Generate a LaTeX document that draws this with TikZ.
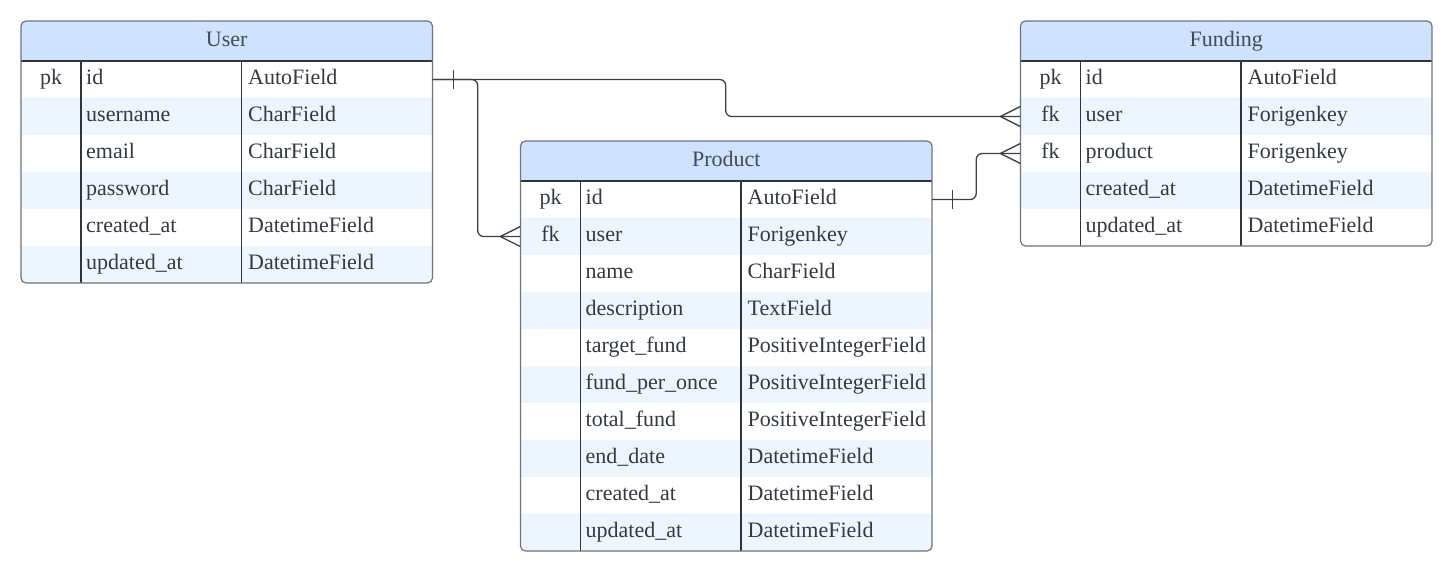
\documentclass[tikz,border=0pt]{standalone}
\usepackage{fontspec}
\setmainfont{Liberation Serif}
\definecolor{hdrfill}{HTML}{CFE2FF}
\definecolor{stripefill}{HTML}{EDF5FF}
\definecolor{bordercol}{HTML}{6E737B}
\definecolor{colline}{HTML}{2F353D}
\definecolor{linecol}{HTML}{3A4049}
\definecolor{txtcol}{HTML}{333A44}
\tikzset{
  celltext/.style={font=\fontsize{22}{26}\selectfont, text=txtcol, inner sep=0pt},
  keytext/.style={celltext, anchor=base},
  nametext/.style={celltext, anchor=base west},
  hdrtext/.style={celltext, anchor=base, text=txtcol!92!white},
  rowbox/.style={minimum width=411.5pt, minimum height=37pt, inner sep=0pt, draw=none},
  border/.style={draw=bordercol, line width=1.2pt, rounded corners=5pt},
  divider/.style={draw=colline, line width=1.1pt},
  conn/.style={draw=linecol, line width=1.3pt},
}
\newcommand\ertable[6]{%
  \begin{scope}
    \clip[rounded corners=5pt] (#2,#3) rectangle ++(411.5,40+37*#5);
    \fill[white] (#2,#3) rectangle ++(411.5,40+37*#5);
    \fill[hdrfill] (#2,#3) rectangle ++(411.5,40);
    \foreach \k/\f/\t [count=\i] in {#6} {
      \pgfmathsetmacro\yc{#3+40+37*(\i-1)+18.5}
      \ifodd\i\else
        \fill[stripefill] (#2,\yc-18.5) rectangle ++(411.5,37);
      \fi
      \node[rowbox] (#1-r\i) at (#2+205.75,\yc) {};
      \node[keytext] (#1-k\i) at (#2+30,\yc+5) {\k};
      \node[nametext] (#1-n\i) at (#2+65,\yc+5) {\f};
      \node[nametext] (#1-t\i) at (#2+227,\yc+5) {\t};
    }
  \end{scope}
  \node[hdrtext] (#1) at (#2+205.75,#3+25.5) {#4};
  \draw[divider] (#2,#3+40) -- ++(411.5,0);
  \draw[divider] (#2+60,#3+40) -- ++(0,37*#5);
  \draw[divider] (#2+220.5,#3+40) -- ++(0,37*#5);
  \draw[border] (#2,#3) rectangle ++(411.5,40+37*#5);
}
\begin{document}
\begin{tikzpicture}[x=1pt,y=-1pt]
\useasboundingbox (0,0) rectangle (1453,571);
\fill[white] (0,0) rectangle (1453,571);

\ertable{user}{21}{21}{User}{6}{pk/id/AutoField, /username/CharField, /email/CharField, /password/CharField, /created\_at/DatetimeField, /updated\_at/DatetimeField}

\ertable{fund}{1020.5}{21}{Funding}{5}{pk/id/AutoField, fk/user/Forigenkey, fk/product/Forigenkey, /created\_at/DatetimeField, /updated\_at/DatetimeField}

\ertable{prod}{520.5}{141}{Product}{10}{pk/id/AutoField, fk/user/Forigenkey, /name/CharField, /description/TextField, /target\_fund/PositiveIntegerField, /fund\_per\_once/PositiveIntegerField, /total\_fund/PositiveIntegerField, /end\_date/DatetimeField, /created\_at/DatetimeField, /updated\_at/DatetimeField}

% User -> Product
\draw[conn, rounded corners=6pt] (user-r1.east) -- ++(45,0) |- (prod-r2.west);
% User -> Funding
\draw[conn, rounded corners=6pt] (user-r1.east) -- ++(293,0) |- (fund-r2.west);
% Product -> Funding
\draw[conn, rounded corners=6pt] (prod-r1.east) -- ++(44,0) |- (fund-r3.west);

% one marks
\draw[conn] ([xshift=21pt,yshift=9.5pt]user-r1.east) -- ([xshift=21pt,yshift=-9.5pt]user-r1.east);
\draw[conn] ([xshift=20pt,yshift=9.5pt]prod-r1.east) -- ([xshift=20pt,yshift=-9.5pt]prod-r1.east);

% many marks
\draw[conn] ([yshift=10pt]prod-r2.west) -- ([xshift=-20pt]prod-r2.west) -- ([yshift=-10pt]prod-r2.west);
\draw[conn] ([yshift=10pt]fund-r2.west) -- ([xshift=-20pt]fund-r2.west) -- ([yshift=-10pt]fund-r2.west);
\draw[conn] ([yshift=10pt]fund-r3.west) -- ([xshift=-20pt]fund-r3.west) -- ([yshift=-10pt]fund-r3.west);
\end{tikzpicture}
\end{document}
